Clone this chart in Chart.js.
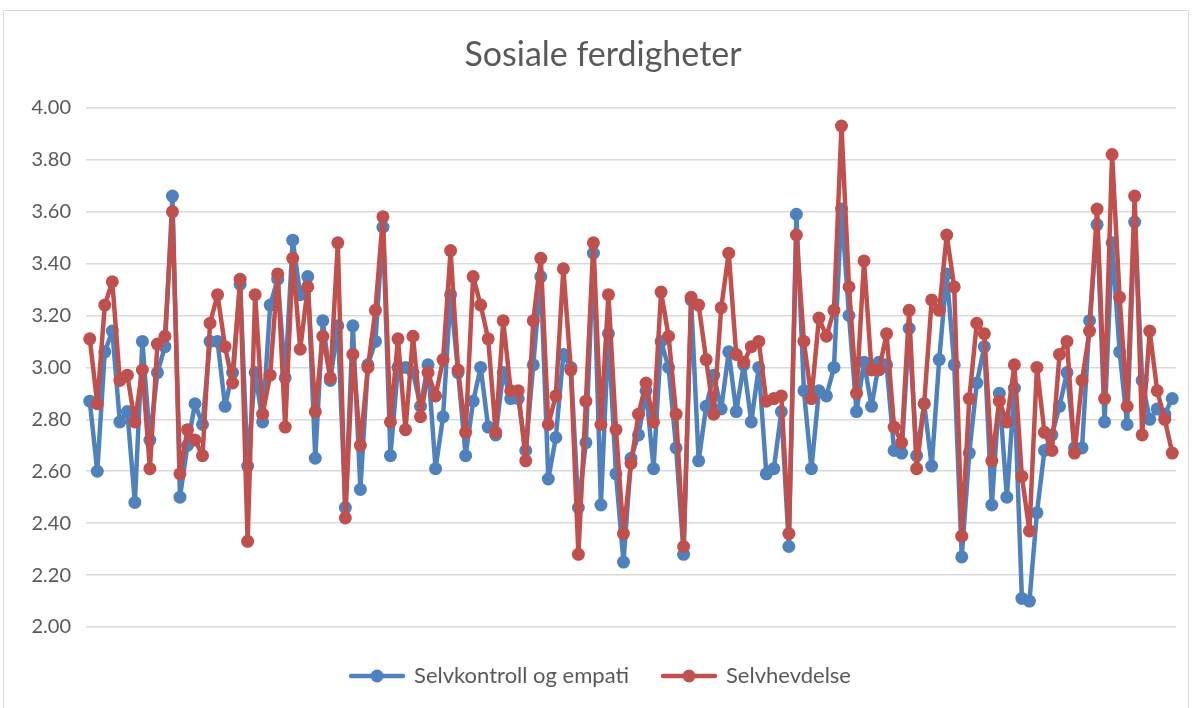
<!DOCTYPE html>
<html>
<head>
<meta charset="utf-8">
<title>Sosiale ferdigheter</title>
<script src="https://cdn.jsdelivr.net/npm/chart.js@4"></script>
<style>
  html, body { margin: 0; padding: 0; background: #fff; }
  #wrap { position: relative; width: 1192px; height: 708px; }
  #frame {
    position: absolute; left: 3px; top: 10px; width: 1186px; height: 710px;
    border: 1px solid #d9d9d9; box-sizing: border-box; pointer-events: none;
  }
</style>
</head>
<body>
<div id="wrap">
  <canvas id="chart" width="1192" height="708"></canvas>
  <div id="frame"></div>
</div>
<script>
// verdier lest av fra figuren (145 respondenter)
const selvkontroll = [
  2.87, 2.60, 3.06, 3.14, 2.79, 2.83, 2.48, 3.10, 2.72, 2.98,
  3.08, 3.66, 2.50, 2.70, 2.86, 2.78, 3.10, 3.10, 2.85, 2.98,
  3.32, 2.62, 2.98, 2.79, 3.24, 3.34, 2.96, 3.49, 3.28, 3.35,
  2.65, 3.18, 2.95, 3.16, 2.46, 3.16, 2.53, 3.01, 3.10, 3.54,
  2.66, 3.00, 3.00, 2.98, 2.85, 3.01, 2.61, 2.81, 3.28, 2.98,
  2.66, 2.87, 3.00, 2.77, 2.74, 2.98, 2.88, 2.88, 2.68, 3.01,
  3.35, 2.57, 2.73, 3.05, 3.00, 2.46, 2.71, 3.44, 2.47, 3.13,
  2.59, 2.25, 2.65, 2.74, 2.91, 2.61, 3.10, 3.00, 2.69, 2.28,
  3.26, 2.64, 2.85, 2.97, 2.84, 3.06, 2.83, 3.01, 2.79, 3.00,
  2.59, 2.61, 2.83, 2.31, 3.59, 2.91, 2.61, 2.91, 2.89, 3.00,
  3.61, 3.20, 2.83, 3.02, 2.85, 3.02, 3.01, 2.68, 2.67, 3.15,
  2.66, 2.86, 2.62, 3.03, 3.36, 3.01, 2.27, 2.67, 2.94, 3.08,
  2.47, 2.90, 2.50, 2.92, 2.11, 2.10, 2.44, 2.68, 2.74, 2.85,
  2.98, 2.69, 2.69, 3.18, 3.55, 2.79, 3.48, 3.06, 2.78, 3.56,
  2.95, 2.80, 2.84, 2.82, 2.88
];

const selvhevdelse = [
  3.11, 2.86, 3.24, 3.33, 2.95, 2.97, 2.79, 2.99, 2.61, 3.09,
  3.12, 3.60, 2.59, 2.76, 2.72, 2.66, 3.17, 3.28, 3.08, 2.94,
  3.34, 2.33, 3.28, 2.82, 2.97, 3.36, 2.77, 3.42, 3.07, 3.31,
  2.83, 3.12, 2.96, 3.48, 2.42, 3.05, 2.70, 3.00, 3.22, 3.58,
  2.79, 3.11, 2.76, 3.12, 2.81, 2.98, 2.89, 3.03, 3.45, 2.99,
  2.75, 3.35, 3.24, 3.11, 2.75, 3.18, 2.91, 2.91, 2.64, 3.18,
  3.42, 2.78, 2.89, 3.38, 2.99, 2.28, 2.87, 3.48, 2.78, 3.28,
  2.76, 2.36, 2.63, 2.82, 2.94, 2.79, 3.29, 3.12, 2.82, 2.31,
  3.27, 3.24, 3.03, 2.82, 3.23, 3.44, 3.05, 3.02, 3.08, 3.10,
  2.87, 2.88, 2.89, 2.36, 3.51, 3.10, 2.88, 3.19, 3.12, 3.22,
  3.93, 3.31, 2.90, 3.41, 2.99, 2.99, 3.13, 2.77, 2.71, 3.22,
  2.61, 2.86, 3.26, 3.22, 3.51, 3.31, 2.35, 2.88, 3.17, 3.13,
  2.64, 2.87, 2.79, 3.01, 2.58, 2.37, 3.00, 2.75, 2.68, 3.05,
  3.10, 2.67, 2.95, 3.14, 3.61, 2.88, 3.82, 3.27, 2.85, 3.66,
  2.74, 3.14, 2.91, 2.80, 2.67
];

// ingen synlige kategorinavn i originalen, bare løpenummer
const respondenter = selvkontroll.map((_, i) => String(i + 1));

const yTicks = [2.0, 2.2, 2.4, 2.6, 2.8, 3.0, 3.2, 3.4, 3.6, 3.8, 4.0];

const serieNavn = ['Selvkontroll og empati', 'Selvhevdelse'];
const farger = ['#4f81bd', '#c0504d'];

const tekstFarge = '#595959';
const fontNavn = 'Lato, "Open Sans", sans-serif';

// liten linje med prikk til forklaringen, som i Excel
function legendMarker(color) {
    const c = document.createElement('canvas');
    c.width = 62;
    c.height = 14;
    const g = c.getContext('2d');
    g.strokeStyle = color;
    g.lineWidth = 4.5;
    g.lineCap = 'round';
    g.beginPath();
    g.moveTo(3, 7);
    g.lineTo(55, 7);
    g.stroke();
    g.fillStyle = color;
    g.beginPath();
    g.arc(29, 7, 6.5, 0, Math.PI * 2);
    g.fill();
    return c;
}

const markers = farger.map(legendMarker);

const ctx = document.getElementById('chart').getContext('2d');

new Chart(ctx, {
    type: 'line',
    data: {
        labels: respondenter,
        datasets: [
            {
                label: serieNavn[0],
                data: selvkontroll,
                borderColor: farger[0],
                backgroundColor: farger[0],
                borderWidth: 4.5,
                borderJoinStyle: 'round',
                borderCapStyle: 'round',
                pointRadius: 6.5,
                pointBorderWidth: 0,
                pointBackgroundColor: farger[0],
                tension: 0,
                order: 1
            },
            {
                label: serieNavn[1],
                data: selvhevdelse,
                borderColor: farger[1],
                backgroundColor: farger[1],
                borderWidth: 4.5,
                borderJoinStyle: 'round',
                borderCapStyle: 'round',
                pointRadius: 6.5,
                pointBorderWidth: 0,
                pointBackgroundColor: farger[1],
                tension: 0,
                order: 0
            }
        ]
    },
    options: {
        responsive: false,
        animation: false,
        devicePixelRatio: 1,
        layout: {
            padding: { left: 30, right: 16, top: 0, bottom: 11 }
        },
        scales: {
            x: {
                type: 'category',
                offset: true,
                display: false
            },
            y: {
                min: 2,
                max: 4,
                afterBuildTicks: s => { s.ticks = yTicks.map(v => ({ value: v })); },
                afterFit: s => { s.width = 56; },
                ticks: {
                    padding: 15,
                    color: tekstFarge,
                    font: { family: fontNavn, size: 20 },
                    callback: v => Number(v).toFixed(2)
                },
                grid: {
                    color: '#d9d9d9',
                    lineWidth: 1.5,
                    drawTicks: false
                },
                border: { display: false }
            }
        },
        plugins: {
            title: {
                display: true,
                text: 'Sosiale ferdigheter',
                color: tekstFarge,
                font: { family: fontNavn, size: 34, weight: 'normal' },
                padding: { top: 35, bottom: 32 }
            },
            legend: {
                position: 'bottom',
                labels: {
                    usePointStyle: true,
                    pointStyleWidth: 48,
                    padding: 38,
                    color: tekstFarge,
                    font: { family: fontNavn, size: 22 },
                    sort: (a, b) => a.datasetIndex - b.datasetIndex,
                    generateLabels: chart => {
                        const items = Chart.defaults.plugins.legend.labels.generateLabels(chart);
                        items.forEach(it => { it.pointStyle = markers[it.datasetIndex]; });
                        return items;
                    }
                }
            },
            tooltip: { enabled: false }
        }
    }
});
</script>
</body>
</html>
